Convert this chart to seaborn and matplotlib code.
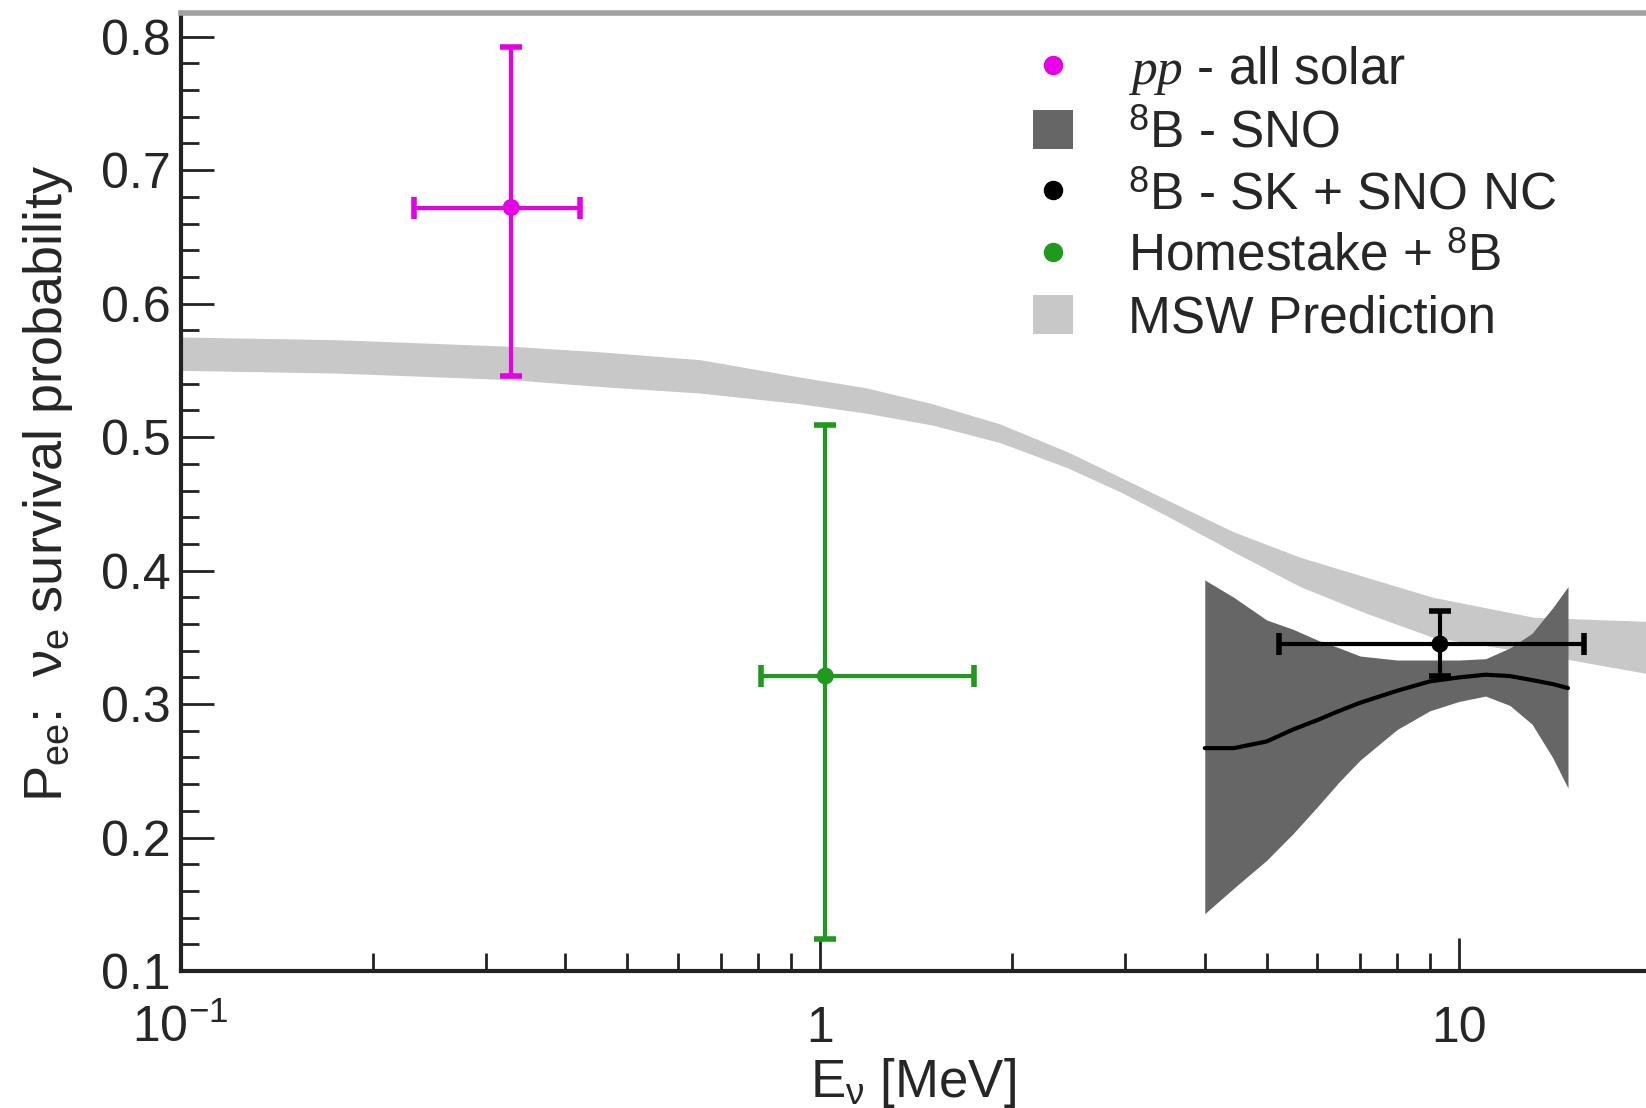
import numpy as np
import pandas as pd
import matplotlib
matplotlib.use("Agg")
import matplotlib.pyplot as plt
import seaborn as sns
from matplotlib.lines import Line2D
from matplotlib.patches import Patch
from matplotlib.ticker import LogLocator, MultipleLocator, NullFormatter

# MSW prediction band (light grey)
msw_e = [0.1, 0.175, 0.33, 0.45, 0.65, 0.93, 1.18, 1.5, 1.91, 2.44, 2.95, 3.49, 4.44, 5.64, 7.16, 9.1, 13.1, 19.6]
msw_lo = [0.550, 0.548, 0.543, 0.538, 0.533, 0.525, 0.518, 0.509, 0.496, 0.477, 0.459, 0.441, 0.414, 0.388, 0.368, 0.350, 0.338, 0.323]
msw_hi = [0.575, 0.573, 0.568, 0.564, 0.558, 0.545, 0.537, 0.525, 0.510, 0.489, 0.470, 0.453, 0.429, 0.410, 0.395, 0.380, 0.365, 0.362]

# 8B - SNO band and central curve
sno_e = [4.0, 4.44, 5.0, 5.5, 6.0, 6.5, 7.0, 8.0, 9.0, 10.0, 11.0, 12.0, 13.0, 14.0, 14.8]
sno_lo = [0.143, 0.162, 0.183, 0.203, 0.223, 0.242, 0.258, 0.281, 0.295, 0.302, 0.306, 0.299, 0.285, 0.260, 0.237]
sno_hi = [0.393, 0.380, 0.363, 0.356, 0.348, 0.342, 0.336, 0.333, 0.333, 0.333, 0.334, 0.342, 0.353, 0.372, 0.388]
sno_mid = [0.267, 0.267, 0.272, 0.281, 0.288, 0.295, 0.301, 0.310, 0.317, 0.320, 0.322, 0.321, 0.318, 0.315, 0.312]

# measured points
pt_names = ["pp", "SK + SNO NC", "Homestake"]
pt_e = [0.329, 9.33, 1.02]
pt_e_lo = [0.232, 5.23, 0.809]
pt_e_hi = [0.421, 15.7, 1.74]
pt_p = [0.672, 0.345, 0.321]
pt_p_lo = [0.546, 0.321, 0.124]
pt_p_hi = [0.792, 0.370, 0.509]
pt_col = ["#e600e6", "#000000", "#1f9a1f"]

legend_labels = [r"$pp$ - all solar", r"$^{8}$B - SNO", r"$^{8}$B - SK + SNO NC",
                 r"Homestake + $^{8}$B", "MSW Prediction"]

sns.set_theme(style="ticks")
plt.rcParams["font.family"] = ["Liberation Sans", "DejaVu Sans"]
plt.rcParams["mathtext.fontset"] = "custom"
plt.rcParams["mathtext.rm"] = "Liberation Sans"
plt.rcParams["mathtext.it"] = "Liberation Serif:italic"
plt.rcParams["mathtext.bf"] = "Liberation Sans:bold"

fig = plt.figure(figsize=(16.46, 11.08), dpi=100)
ax = fig.add_axes([0.1097, 0.1236, 0.8903, 0.8650])

ax.fill_between(msw_e, msw_lo, msw_hi, color="#c8c8c8", lw=0, zorder=1)
ax.fill_between(sno_e, sno_lo, sno_hi, color="#666666", lw=0, zorder=2)
sns.lineplot(x=sno_e, y=sno_mid, color="black", lw=3, ax=ax, zorder=3)

df = pd.DataFrame({"name": pt_names, "e": pt_e, "p": pt_p})
for i in range(len(pt_names)):
    ax.errorbar(pt_e[i], pt_p[i],
                xerr=[[pt_e[i] - pt_e_lo[i]], [pt_e_hi[i] - pt_e[i]]],
                yerr=[[pt_p[i] - pt_p_lo[i]], [pt_p_hi[i] - pt_p[i]]],
                fmt="none", ecolor=pt_col[i], elinewidth=3, capsize=8, capthick=4, zorder=4)
sns.scatterplot(data=df, x="e", y="p", hue="name", palette=pt_col, s=150,
                edgecolor="none", legend=False, ax=ax, zorder=5)

ax.set_xscale("log")
ax.set_xlim(0.1, 19.6)
ax.set_ylim(0.1, 0.818)

ax.set_xticks([0.1, 1, 10])
ax.set_xticklabels([r"$\mathregular{10^{-1}}$", "1", "10"])
ax.xaxis.set_minor_locator(LogLocator(base=10, subs=np.arange(2, 10)))
ax.xaxis.set_minor_formatter(NullFormatter())
ax.set_yticks(np.arange(0.1, 0.81, 0.1))
ax.set_yticklabels(["%.1f" % v for v in np.arange(0.1, 0.81, 0.1)])
ax.yaxis.set_minor_locator(MultipleLocator(0.02))

ax.tick_params(which="major", direction="in", length=24, width=2, color="#222222", labelsize=36)
ax.tick_params(which="minor", direction="in", length=13, width=2, color="#222222")
ax.tick_params(axis="x", which="major", pad=51)
ax.tick_params(axis="y", which="major", pad=7)
for lab in ax.get_xticklabels():
    lab.set_verticalalignment("baseline")

for s in ["left", "bottom"]:
    ax.spines[s].set_linewidth(3)
    ax.spines[s].set_color("#222222")
ax.spines["top"].set_linewidth(4)
ax.spines["top"].set_color("#a0a0a0")
ax.spines["right"].set_visible(False)

ax.set_xlabel(r"E$_{\mathrm{ν}}$ [MeV]", fontsize=38)
ax.xaxis.label.set_verticalalignment("top")
ax.xaxis.set_label_coords(0.5, -0.089)
ax.set_ylabel(r"P$_{\mathrm{ee}}$:  ν$_{\mathrm{e}}$ survival probability", fontsize=39)
ax.yaxis.label.set_rotation_mode("default")
ax.yaxis.label.set_verticalalignment("center")
ax.yaxis.label.set_horizontalalignment("center")
ax.yaxis.set_label_coords(-0.0904, 0.509)

handles = [
    Line2D([], [], marker="o", ls="none", color=pt_col[0], ms=13),
    Patch(facecolor="#666666", edgecolor="none"),
    Line2D([], [], marker="o", ls="none", color=pt_col[1], ms=13),
    Line2D([], [], marker="o", ls="none", color=pt_col[2], ms=13),
    Patch(facecolor="#c8c8c8", edgecolor="none"),
]
ax.legend(handles, legend_labels, loc="upper left", bbox_to_anchor=(0.5817, 0.9675),
          frameon=False, fontsize=37, borderpad=0, borderaxespad=0,
          handlelength=0.78, handleheight=0.78, handletextpad=1.07, labelspacing=0.245)

fig.savefig("out.png", dpi=100)
